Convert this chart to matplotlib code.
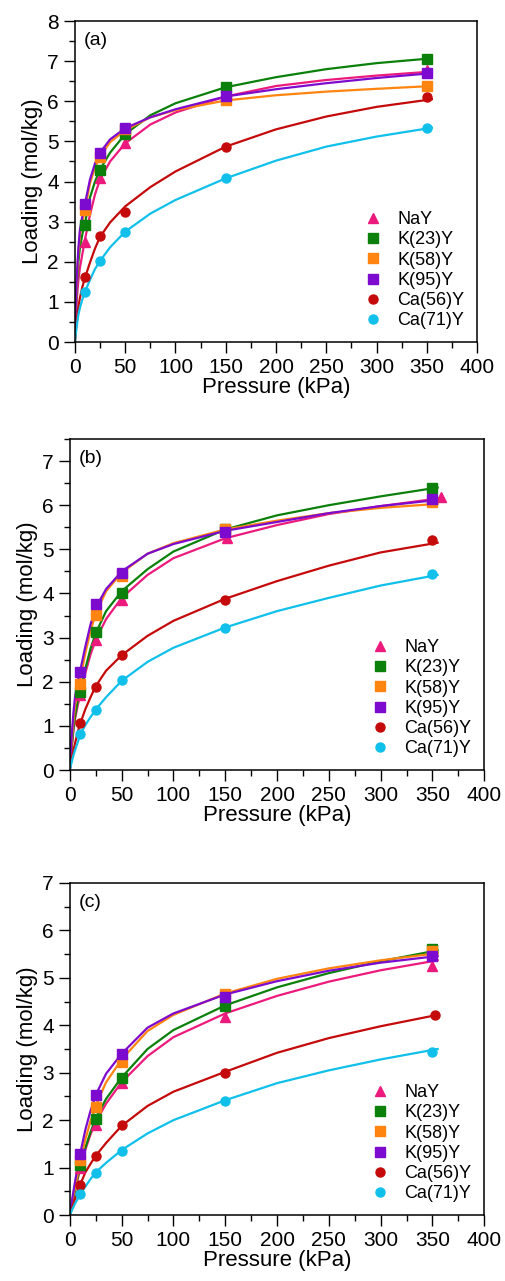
import numpy as np
import matplotlib.pyplot as plt
from matplotlib.ticker import MultipleLocator

plt.rcParams['font.family'] = ['Liberation Sans', 'DejaVu Sans']

noms = ['NaY', 'K(23)Y', 'K(58)Y', 'K(95)Y', 'Ca(56)Y', 'Ca(71)Y']
couleurs = ['#EC1A7C', '#0B800B', '#FF8410', '#7D0BCF', '#C40A0A', '#10C0EA']
marqueurs = ['^', 's', 's', 's', 'o', 'o']

# pressures of the measured points (kPa)
P_a = [[10, 25, 50, 150, 350]] * 6
P_b = [[10, 25, 50, 152, 358]] + [[10, 25, 50, 150, 350]] * 5
P_c = [[10, 25, 50, 150, 350]] * 4 + [[10, 25, 50, 150, 352]] + [[10, 25, 50, 150, 350]]

# measured loadings (mol/kg)
pts_a = [[2.50, 4.08, 4.95, 6.15, 6.78],
         [2.92, 4.29, 5.18, 6.35, 7.06],
         [3.29, 4.62, 5.30, 6.03, 6.38],
         [3.44, 4.72, 5.33, 6.12, 6.70],
         [1.61, 2.65, 3.25, 4.85, 6.10],
         [1.25, 2.02, 2.73, 4.08, 5.33]]
pts_b = [[1.70, 2.94, 3.86, 5.25, 6.19],
         [1.76, 3.13, 4.02, 5.45, 6.40],
         [1.95, 3.52, 4.39, 5.47, 6.08],
         [2.23, 3.76, 4.47, 5.40, 6.14],
         [1.06, 1.89, 2.61, 3.85, 5.21],
         [0.81, 1.35, 2.05, 3.22, 4.45]]
pts_c = [[1.00, 1.90, 2.79, 4.18, 5.24],
         [1.05, 2.02, 2.88, 4.41, 5.61],
         [1.16, 2.27, 3.23, 4.65, 5.57],
         [1.29, 2.54, 3.39, 4.60, 5.46],
         [0.63, 1.25, 1.90, 3.00, 4.22],
         [0.44, 0.88, 1.36, 2.40, 3.44]]

# fitted isotherm curves
P_fit = [0, 1, 2, 3.5, 5, 7.5, 10, 15, 20, 25, 35, 50, 75, 100, 150, 200, 250, 300, 355]
fit_a = [[0, 0.65, 1.10, 1.55, 1.85, 2.20, 2.55, 3.17, 3.68, 4.05, 4.50, 4.95, 5.42, 5.72, 6.12, 6.38, 6.53, 6.64, 6.74],
         [0, 0.85, 1.45, 2.00, 2.35, 2.70, 2.95, 3.60, 4.00, 4.30, 4.72, 5.18, 5.65, 5.95, 6.35, 6.60, 6.80, 6.95, 7.07],
         [0, 1.00, 1.60, 2.25, 2.65, 3.00, 3.30, 3.95, 4.35, 4.62, 4.98, 5.28, 5.60, 5.78, 6.02, 6.15, 6.24, 6.31, 6.38],
         [0, 1.05, 1.70, 2.35, 2.80, 3.15, 3.44, 4.05, 4.45, 4.72, 5.05, 5.33, 5.60, 5.80, 6.12, 6.30, 6.45, 6.58, 6.70],
         [0, 0.30, 0.55, 0.88, 1.10, 1.38, 1.60, 1.98, 2.33, 2.62, 2.98, 3.38, 3.86, 4.25, 4.87, 5.30, 5.62, 5.86, 6.05],
         [0, 0.22, 0.42, 0.68, 0.85, 1.07, 1.25, 1.55, 1.82, 2.02, 2.36, 2.75, 3.20, 3.54, 4.08, 4.52, 4.87, 5.12, 5.34]]
fit_b = [[0, 0.28, 0.55, 0.90, 1.15, 1.45, 1.70, 2.20, 2.62, 2.95, 3.42, 3.90, 4.42, 4.80, 5.25, 5.55, 5.80, 5.98, 6.15],
         [0, 0.30, 0.58, 0.95, 1.22, 1.55, 1.78, 2.30, 2.75, 3.10, 3.60, 4.05, 4.55, 4.95, 5.45, 5.77, 6.00, 6.20, 6.40],
         [0, 0.38, 0.72, 1.12, 1.45, 1.80, 2.05, 2.65, 3.15, 3.55, 4.05, 4.47, 4.90, 5.14, 5.45, 5.65, 5.82, 5.94, 6.03],
         [0, 0.45, 0.85, 1.30, 1.65, 2.00, 2.25, 2.80, 3.30, 3.68, 4.10, 4.50, 4.90, 5.12, 5.42, 5.62, 5.82, 5.98, 6.12],
         [0, 0.15, 0.28, 0.45, 0.60, 0.85, 1.05, 1.38, 1.65, 1.90, 2.25, 2.60, 3.04, 3.38, 3.88, 4.28, 4.63, 4.93, 5.15],
         [0, 0.10, 0.20, 0.33, 0.45, 0.62, 0.80, 1.02, 1.20, 1.37, 1.65, 2.02, 2.45, 2.77, 3.23, 3.60, 3.90, 4.18, 4.42]]
fit_c = [[0, 0.10, 0.20, 0.36, 0.50, 0.75, 0.98, 1.38, 1.70, 1.96, 2.35, 2.80, 3.35, 3.75, 4.25, 4.62, 4.92, 5.16, 5.37],
         [0, 0.11, 0.22, 0.38, 0.52, 0.78, 1.02, 1.42, 1.75, 2.04, 2.45, 2.90, 3.50, 3.90, 4.42, 4.80, 5.10, 5.35, 5.58],
         [0, 0.12, 0.24, 0.42, 0.58, 0.85, 1.12, 1.60, 1.98, 2.30, 2.80, 3.28, 3.88, 4.22, 4.67, 4.98, 5.20, 5.37, 5.52],
         [0, 0.15, 0.30, 0.50, 0.70, 1.00, 1.29, 1.80, 2.20, 2.53, 2.98, 3.40, 3.95, 4.25, 4.65, 4.93, 5.15, 5.32, 5.46],
         [0, 0.07, 0.14, 0.24, 0.34, 0.50, 0.64, 0.90, 1.08, 1.25, 1.52, 1.88, 2.30, 2.60, 3.02, 3.42, 3.73, 3.98, 4.22],
         [0, 0.05, 0.10, 0.17, 0.24, 0.34, 0.44, 0.60, 0.76, 0.90, 1.10, 1.37, 1.72, 2.00, 2.42, 2.78, 3.05, 3.28, 3.50]]

ymax = [8, 7.5, 7]
lettres = ['(a)', '(b)', '(c)']
boites = [[0.148, 0.733, 0.795, 0.2506],
          [0.138, 0.3989, 0.819, 0.2584],
          [0.138, 0.0515, 0.819, 0.2592]]

fig = plt.figure(figsize=(5.06, 12.81), dpi=100)

for k, (Ps, pts, fit) in enumerate([(P_a, pts_a, fit_a), (P_b, pts_b, fit_b), (P_c, pts_c, fit_c)]):
    ax = fig.add_axes(boites[k])
    for i in range(6):
        ax.plot(P_fit, fit[i], color=couleurs[i], lw=1.6, zorder=2)
    for i in range(6):
        ms = 7.5 if marqueurs[i] == '^' else 6.5
        ax.plot(Ps[i], pts[i], linestyle='none', marker=marqueurs[i], ms=ms,
                color=couleurs[i], mec=couleurs[i], label=noms[i], zorder=3)
    ax.set_xlim(0, 400)
    ax.set_ylim(0, ymax[k])
    ax.xaxis.set_major_locator(MultipleLocator(50))
    ax.xaxis.set_minor_locator(MultipleLocator(25))
    ax.yaxis.set_major_locator(MultipleLocator(1))
    ax.yaxis.set_minor_locator(MultipleLocator(0.5))
    ax.tick_params(which='both', direction='out', top=False, right=False, labelsize=15, width=1)
    ax.tick_params(which='major', length=8)
    ax.tick_params(which='minor', length=4)
    for s in ax.spines.values():
        s.set_linewidth(1.1)
    ax.set_xlabel('Pressure (kPa)', fontsize=16, labelpad=0)
    ax.set_ylabel('Loading (mol/kg)', fontsize=16, labelpad=3)
    ax.text(0.022, 0.94, lettres[k], transform=ax.transAxes, fontsize=14, va='center', ha='left')
    ax.legend(loc='lower right', frameon=False, fontsize=13, handlelength=1.0,
              handletextpad=0.85, labelspacing=0.18, borderaxespad=0.3, numpoints=1)

plt.savefig('out.png', dpi=100)
